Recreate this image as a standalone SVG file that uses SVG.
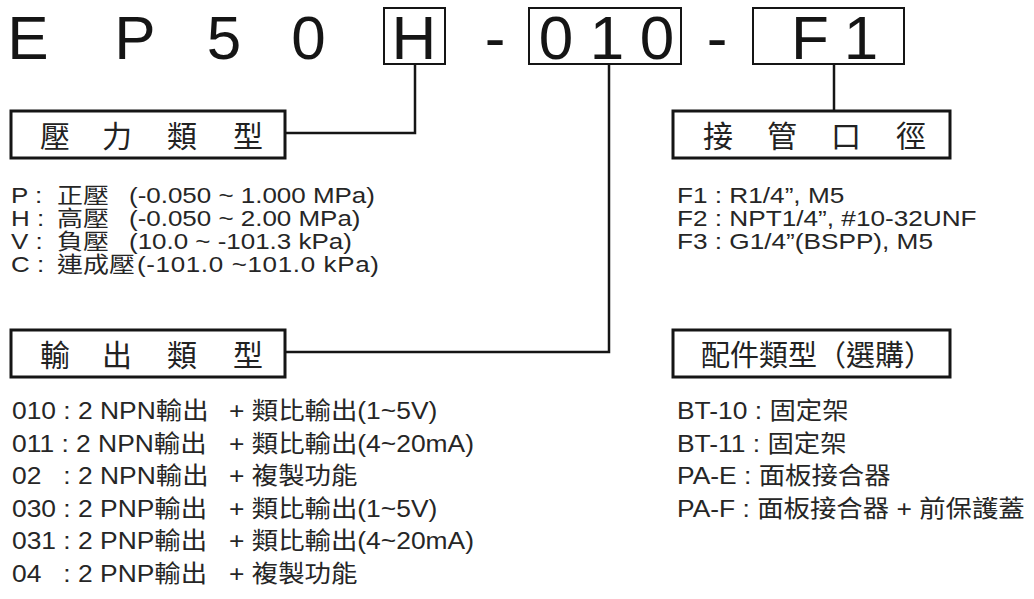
<svg xmlns="http://www.w3.org/2000/svg" width="1034" height="599" viewBox="0 0 1034 599">
<style>
.bg{fill:#fff}
.title{font-family:"Liberation Sans","Noto Sans CJK TC",sans-serif;font-size:62px;fill:#151515;text-anchor:middle}
.box{fill:none;stroke:#151515;stroke-width:2}
.hbox{fill:#fff;stroke:#151515;stroke-width:3}
.hd{font-family:"Noto Sans CJK TC","Liberation Sans",sans-serif;font-size:30px;fill:#222;text-anchor:middle}
.hd2{font-family:"Noto Sans CJK TC","Liberation Sans",sans-serif;font-size:29px;fill:#222}
.t{font-family:"Liberation Sans","Noto Sans CJK TC",sans-serif;font-size:24px;fill:#262626}
.s{font-family:"Liberation Sans","Noto Sans CJK TC",sans-serif;font-size:22px;fill:#262626}
.wire{fill:none;stroke:#151515;stroke-width:2.5}
</style>
<rect class="bg" x="0" y="0" width="1034" height="599"/>

<g id="code">
  <text class="title" x="28" y="58.5">E</text>
  <text class="title" x="135" y="58.5">P</text>
  <text class="title" x="224" y="58.5">5</text>
  <text class="title" x="308.5" y="58.5">0</text>
  <text class="title" x="495" y="58.5">-</text>
  <text class="title" x="717" y="58.5">-</text>
</g>
<g id="seg-h">
  <rect class="box" x="384" y="8" width="61" height="56"/>
  <text class="title" x="414" y="58.5">H</text>
</g>
<g id="seg-010">
  <rect class="box" x="529" y="8" width="152" height="56"/>
  <text class="title" x="556" y="58.5">0</text>
  <text class="title" x="607" y="58.5">1</text>
  <text class="title" x="657" y="58.5">0</text>
</g>
<g id="seg-f1">
  <rect class="box" x="753" y="8" width="151" height="56"/>
  <text class="title" x="810" y="58.5">F</text>
  <text class="title" x="861" y="58.5">1</text>
</g>

<g id="connectors">
  <polyline class="wire" points="415,64 415,133 285,133"/>
  <polyline class="wire" points="609,64 609,352 285,352"/>
  <polyline class="wire" points="834,64 834,111"/>
</g>

<g id="pressure-type">
  <rect class="hbox" x="11" y="111" width="274" height="47"/>
  <text class="hd" x="55 117 182 248" y="147">壓力類型</text>
  <g transform="translate(11 0) scale(1.18 1)">
    <text class="s" x="0" y="203">P :</text>
    <text class="s" x="39" y="203">正壓</text>
    <text class="s" x="100" y="203">(-0.050 ~ 1.000 MPa)</text>
    <text class="s" x="0" y="226">H :</text>
    <text class="s" x="39" y="226">高壓</text>
    <text class="s" x="100" y="226">(-0.050 ~ 2.00 MPa)</text>
    <text class="s" x="0" y="249">V :</text>
    <text class="s" x="39" y="249">負壓</text>
    <text class="s" x="100" y="249">(10.0 ~ -101.3 kPa)</text>
    <text class="s" x="0" y="272">C :</text>
    <text class="s" x="39" y="272">連成壓</text>
    <text class="s" x="106.8" y="272" textLength="205" lengthAdjust="spacing">(-101.0 ~101.0 kPa)</text>
  </g>
</g>

<g id="output-type">
  <rect class="hbox" x="11" y="330" width="274" height="47"/>
  <text class="hd" x="55 117 182 248" y="366">輸出類型</text>
  <g transform="translate(12 0) scale(1.1 1)">
    <text class="t" x="0" y="419.5">010 : 2 NPN輸出</text>
    <text class="t" x="197.3" y="419.5">+ 類比輸出(1~5V)</text>
    <text class="t" x="0" y="452">011 : 2 NPN輸出</text>
    <text class="t" x="197.3" y="452">+ 類比輸出(4~20mA)</text>
    <text class="t" x="0" y="484.5">02</text>
    <text class="t" x="46.7" y="484.5">: 2 NPN輸出</text>
    <text class="t" x="197.3" y="484.5">+ 複製功能</text>
    <text class="t" x="0" y="517">030 : 2 PNP輸出</text>
    <text class="t" x="197.3" y="517">+ 類比輸出(1~5V)</text>
    <text class="t" x="0" y="549.5">031 : 2 PNP輸出</text>
    <text class="t" x="197.3" y="549.5">+ 類比輸出(4~20mA)</text>
    <text class="t" x="0" y="582">04</text>
    <text class="t" x="46.7" y="582">: 2 PNP輸出</text>
    <text class="t" x="197.3" y="582">+ 複製功能</text>
  </g>
</g>

<g id="port-size">
  <rect class="hbox" x="673" y="111" width="277" height="47"/>
  <text class="hd" x="718 782 846 911" y="147">接管口徑</text>
  <g transform="translate(677 0) scale(1.19 1)">
    <text class="s" x="0" y="203">F1 : R1/4”, M5</text>
    <text class="s" x="0" y="226">F2 : NPT1/4”, #10-32UNF</text>
    <text class="s" x="0" y="249">F3 : G1/4”(BSPP), M5</text>
  </g>
</g>

<g id="accessory">
  <rect class="hbox" x="673" y="330" width="277" height="47"/>
  <text class="hd2" x="701" y="366">配件類型（選購）</text>
  <g transform="translate(677 0) scale(1.1 1)">
    <text class="t" x="0" y="419.5">BT-10 : 固定架</text>
    <text class="t" x="0" y="452">BT-11 : 固定架</text>
    <text class="t" x="0" y="484.5">PA-E : 面板接合器</text>
    <text class="t" x="0" y="517">PA-F : 面板接合器  + 前保護蓋</text>
  </g>
</g>
</svg>
